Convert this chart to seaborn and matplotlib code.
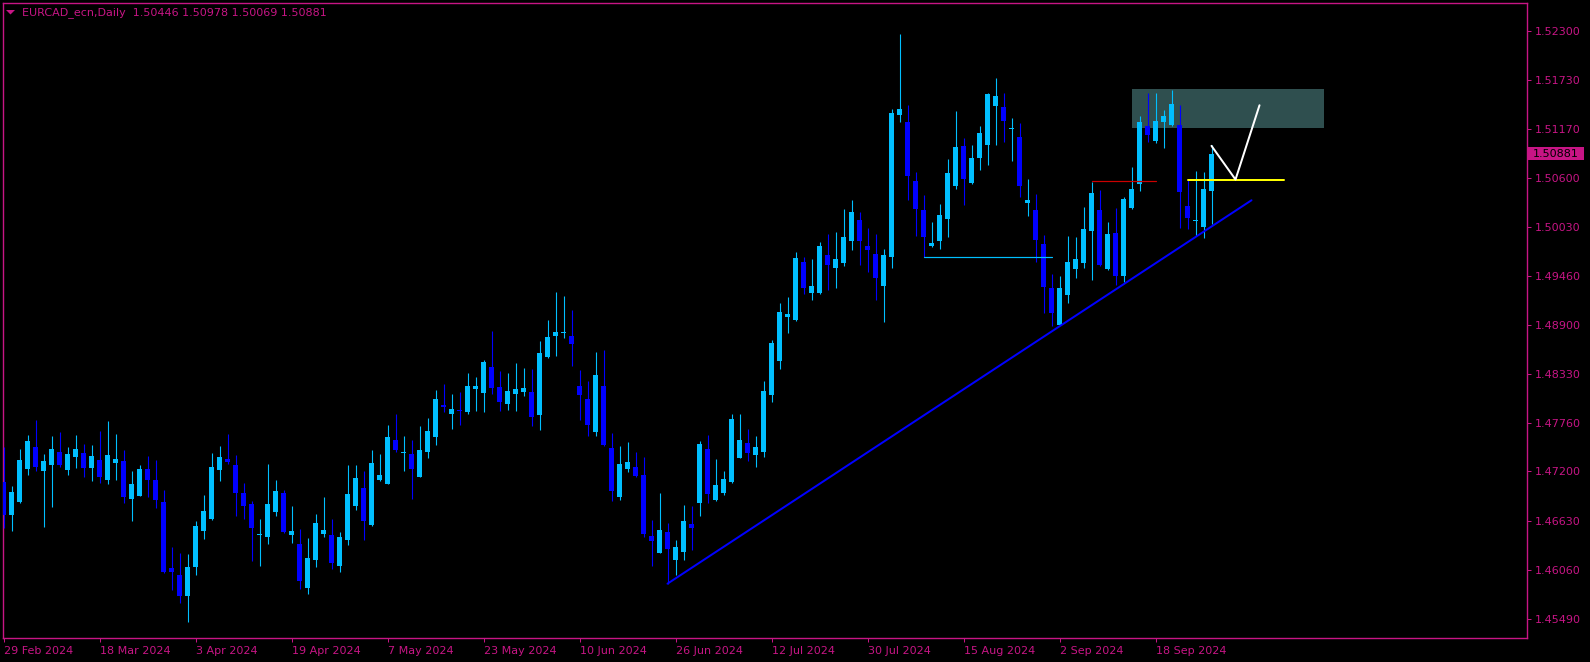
import numpy as np
import pandas as pd
import matplotlib
matplotlib.use("Agg")
import matplotlib.pyplot as plt
import seaborn as sns
from matplotlib.patches import Rectangle, Polygon
from matplotlib.transforms import blended_transform_factory

# ---------------- data ----------------
opens = [1.4708, 1.4670, 1.4685, 1.4723, 1.4748, 1.4720, 1.4728, 1.4743, 1.4722, 1.4737,
         1.4741, 1.4724, 1.4733, 1.4710, 1.4730, 1.4732, 1.4688, 1.4692, 1.4723, 1.4710,
         1.4685, 1.4608, 1.4600, 1.4576, 1.4609, 1.4651, 1.4665, 1.4722, 1.4734, 1.4727,
         1.4695, 1.4682, 1.4646, 1.4644, 1.4673, 1.4695, 1.4646, 1.4636, 1.4585, 1.4617,
         1.4648, 1.4646, 1.4610, 1.4641, 1.4680, 1.4701, 1.4658, 1.4710, 1.4706, 1.4756,
         1.4741, 1.4740, 1.4714, 1.4742, 1.4760, 1.4797, 1.4786, 1.4791, 1.4789, 1.4816,
         1.4811, 1.4841, 1.4818, 1.4798, 1.4810, 1.4812, 1.4812, 1.4785, 1.4852, 1.4877,
         1.4880, 1.4877, 1.4819, 1.4804, 1.4766, 1.4819, 1.4747, 1.4690, 1.4723, 1.4725,
         1.4716, 1.4645, 1.4626, 1.4650, 1.4618, 1.4627, 1.4659, 1.4684, 1.4746, 1.4687,
         1.4695, 1.4708, 1.4736, 1.4753, 1.4739, 1.4743, 1.4808, 1.4848, 1.4899, 1.4895,
         1.4963, 1.4927, 1.4927, 1.4971, 1.4956, 1.4961, 1.4987, 1.5011, 1.4981, 1.4972,
         1.4935, 1.4968, 1.5133, 1.5125, 1.5056, 1.5023, 1.4981, 1.4987, 1.5012, 1.5051,
         1.5097, 1.5054, 1.5083, 1.5098, 1.5143, 1.5142, 1.5116, 1.5107, 1.5031, 1.5023,
         1.4983, 1.4932, 1.4890, 1.4924, 1.4954, 1.4961, 1.4998, 1.5023, 1.4954, 1.4996,
         1.4946, 1.5025, 1.5053, 1.5120, 1.5103, 1.5125, 1.5121, 1.5121, 1.5027, 1.5010,
         1.5003, 1.50446]

highs = [1.4748, 1.4703, 1.4746, 1.4762, 1.4780, 1.4740, 1.4761, 1.4766, 1.4748, 1.4762,
         1.4752, 1.4751, 1.4767, 1.4778, 1.4763, 1.4745, 1.4720, 1.4727, 1.4738, 1.4733,
         1.4699, 1.4633, 1.4626, 1.4624, 1.4663, 1.4693, 1.4741, 1.4749, 1.4763, 1.4739,
         1.4707, 1.4686, 1.4665, 1.4729, 1.4710, 1.4699, 1.4680, 1.4653, 1.4643, 1.4671,
         1.4690, 1.4665, 1.4650, 1.4727, 1.4727, 1.4721, 1.4745, 1.4740, 1.4774, 1.4787,
         1.4761, 1.4756, 1.4773, 1.4782, 1.4814, 1.4821, 1.4810, 1.4812, 1.4834, 1.4829,
         1.4849, 1.4883, 1.4836, 1.4834, 1.4846, 1.4840, 1.4839, 1.4871, 1.4895, 1.4928,
         1.4923, 1.4907, 1.4837, 1.4825, 1.4858, 1.4861, 1.4765, 1.4749, 1.4754, 1.4743,
         1.4737, 1.4664, 1.4695, 1.4660, 1.4641, 1.4681, 1.4680, 1.4755, 1.4762, 1.4734,
         1.4721, 1.4787, 1.4787, 1.4769, 1.4761, 1.4825, 1.4872, 1.4915, 1.4922, 1.4974,
         1.4968, 1.4966, 1.4986, 1.4995, 1.4997, 1.5024, 1.5034, 1.5020, 1.5002, 1.4995,
         1.4978, 1.5140, 1.5227, 1.5144, 1.5067, 1.5040, 1.5009, 1.5030, 1.5082, 1.5137,
         1.5106, 1.5098, 1.5120, 1.5158, 1.5176, 1.5158, 1.5129, 1.5124, 1.5059, 1.5041,
         1.4994, 1.4949, 1.4946, 1.4993, 1.4991, 1.5026, 1.5055, 1.5046, 1.5009, 1.5025,
         1.5038, 1.5073, 1.5132, 1.5158, 1.5158, 1.5139, 1.5162, 1.5144, 1.5058, 1.5068,
         1.5067, 1.50978]

lows = [1.4655, 1.4651, 1.4684, 1.4716, 1.4720, 1.4656, 1.4679, 1.4725, 1.4716, 1.4724,
        1.4713, 1.4709, 1.4707, 1.4706, 1.4710, 1.4684, 1.4663, 1.4691, 1.4690, 1.4678,
        1.4602, 1.4583, 1.4568, 1.4546, 1.4600, 1.4642, 1.4664, 1.4709, 1.4729, 1.4668,
        1.4665, 1.4616, 1.4610, 1.4636, 1.4668, 1.4649, 1.4637, 1.4584, 1.4578, 1.4609,
        1.4644, 1.4607, 1.4604, 1.4635, 1.4675, 1.4641, 1.4657, 1.4709, 1.4705, 1.4743,
        1.4720, 1.4688, 1.4713, 1.4736, 1.4751, 1.4789, 1.4769, 1.4774, 1.4787, 1.4790,
        1.4789, 1.4810, 1.4790, 1.4791, 1.4790, 1.4807, 1.4773, 1.4768, 1.4851, 1.4854,
        1.4875, 1.4842, 1.4780, 1.4761, 1.4761, 1.4749, 1.4686, 1.4687, 1.4719, 1.4714,
        1.4644, 1.4611, 1.4625, 1.4590, 1.4600, 1.4618, 1.4629, 1.4668, 1.4684, 1.4686,
        1.4693, 1.4707, 1.4735, 1.4732, 1.4725, 1.4737, 1.4800, 1.4839, 1.4880, 1.4894,
        1.4925, 1.4918, 1.4926, 1.4930, 1.4932, 1.4958, 1.4976, 1.4959, 1.4951, 1.4918,
        1.4893, 1.4955, 1.5125, 1.5034, 1.4993, 1.4968, 1.4980, 1.4977, 1.4991, 1.5047,
        1.5028, 1.5053, 1.5069, 1.5075, 1.5098, 1.5101, 1.5079, 1.5038, 1.5016, 1.4962,
        1.4904, 1.4888, 1.4889, 1.4915, 1.4944, 1.4955, 1.4942, 1.4958, 1.4953, 1.4936,
        1.4939, 1.5024, 1.5045, 1.5102, 1.5100, 1.5094, 1.5120, 1.5002, 1.5001, 1.4993,
        1.4990, 1.50069]

closes = [1.4669, 1.4696, 1.4733, 1.4755, 1.4725, 1.4732, 1.4746, 1.4728, 1.4740, 1.4746,
          1.4724, 1.4738, 1.4713, 1.4739, 1.4734, 1.4690, 1.4705, 1.4723, 1.4710, 1.4687,
          1.4604, 1.4604, 1.4576, 1.4609, 1.4657, 1.4674, 1.4725, 1.4737, 1.4731, 1.4695,
          1.4680, 1.4654, 1.4648, 1.4682, 1.4697, 1.4650, 1.4651, 1.4593, 1.4620, 1.4660,
          1.4652, 1.4614, 1.4644, 1.4694, 1.4712, 1.4663, 1.4730, 1.4716, 1.4760, 1.4745,
          1.4743, 1.4723, 1.4745, 1.4767, 1.4804, 1.4795, 1.4792, 1.4790, 1.4819, 1.4819,
          1.4847, 1.4817, 1.4800, 1.4813, 1.4815, 1.4817, 1.4783, 1.4857, 1.4876, 1.4881,
          1.4882, 1.4868, 1.4809, 1.4774, 1.4832, 1.4751, 1.4697, 1.4729, 1.4731, 1.4715,
          1.4647, 1.4639, 1.4652, 1.4630, 1.4632, 1.4663, 1.4654, 1.4752, 1.4694, 1.4704,
          1.4711, 1.4781, 1.4756, 1.4741, 1.4748, 1.4813, 1.4869, 1.4905, 1.4902, 1.4967,
          1.4932, 1.4935, 1.4981, 1.4959, 1.4966, 1.4991, 1.5020, 1.4987, 1.4976, 1.4944,
          1.4971, 1.5135, 1.5140, 1.5062, 1.5024, 1.4992, 1.4985, 1.5017, 1.5066, 1.5096,
          1.5059, 1.5083, 1.5112, 1.5157, 1.5155, 1.5126, 1.5118, 1.5051, 1.5034, 1.4988,
          1.4934, 1.4903, 1.4932, 1.4963, 1.4966, 1.5001, 1.5042, 1.4959, 1.4995, 1.4946,
          1.5035, 1.5047, 1.5125, 1.5110, 1.5126, 1.5132, 1.5146, 1.5044, 1.5014, 1.5011,
          1.5047, 1.50881]

date_labels = ["29 Feb 2024", "18 Mar 2024", "3 Apr 2024", "19 Apr 2024", "7 May 2024",
               "23 May 2024", "10 Jun 2024", "26 Jun 2024", "12 Jul 2024", "30 Jul 2024",
               "15 Aug 2024", "2 Sep 2024", "18 Sep 2024"]
date_bars = [0, 12, 24, 36, 48, 60, 72, 84, 96, 108, 120, 132, 144]

price_ticks = [1.52300, 1.51730, 1.51170, 1.50600, 1.50030, 1.49460, 1.48900,
               1.48330, 1.47760, 1.47200, 1.46630, 1.46060, 1.45490]

symbol_title = "EURCAD_ecn,Daily  1.50446 1.50978 1.50069 1.50881"
last_price = 1.50881

trend_x = [83, 156]
trend_y = [1.4590, 1.5034]
support_x = [115, 131]
support_y = [1.4968, 1.4968]
red_x = [136, 144]
red_y = [1.5056, 1.5056]
yellow_x = [148, 160]
yellow_y = [1.5058, 1.5058]
path_x = [151, 154, 157]
path_y = [1.5097, 1.5058, 1.5144]
zone_x = [141, 165]
zone_y = [1.5118, 1.5163]

# ---------------- style ----------------
MAG = "#C71585"
BULL = "#00BFFF"
BEAR = "#0000FF"
W, H = 1590, 662
PX = 0.72  # one pixel in points at dpi 100

sns.set_theme(style="dark", rc={"axes.facecolor": "black", "figure.facecolor": "black"})
plt.rcParams["font.family"] = ["DejaVu Sans"]

fig = plt.figure(figsize=(W / 100, H / 100), dpi=100)
ax = fig.add_axes([2.5 / W, 24 / H, 1524.2 / W, 635.5 / H])
ax.set_facecolor("black")
ax.grid(False)

df = pd.DataFrame({"open": opens, "high": highs, "low": lows, "close": closes})
df["bar"] = np.arange(len(df))
bull = df["close"] >= df["open"]
cols = np.where(bull, BULL, BEAR)

# zone rectangle (background)
ax.add_patch(Rectangle((zone_x[0], zone_y[0]), zone_x[1] - zone_x[0], zone_y[1] - zone_y[0],
                       facecolor="#2F4F4F", edgecolor="none", zorder=1))

# candles
ax.vlines(df["bar"], df["low"], df["high"], colors=cols, linewidth=1.1 * PX, zorder=3)
body_lo = np.minimum(df["open"], df["close"])
body_h = np.maximum((df["close"] - df["open"]).abs(), 0.00013)
ax.bar(df["bar"], body_h, width=0.68, bottom=body_lo, color=cols, linewidth=0, zorder=4)

# drawn objects
sns.lineplot(x=trend_x, y=trend_y, ax=ax, color=BEAR, linewidth=2 * PX, zorder=5)
sns.lineplot(x=support_x, y=support_y, ax=ax, color=BULL, linewidth=1.2 * PX, zorder=5)
sns.lineplot(x=red_x, y=red_y, ax=ax, color="#CC0000", linewidth=1.2 * PX, zorder=5)
sns.lineplot(x=yellow_x, y=yellow_y, ax=ax, color="#FFFF00", linewidth=2 * PX, zorder=5)
sns.lineplot(x=path_x, y=path_y, ax=ax, color="white", linewidth=2 * PX, sort=False,
             estimator=None, zorder=6)

# axes limits
ax.set_xlim(-0.125, 190.4)
ax.set_ylim(1.45271, 1.52630)

for s in ax.spines.values():
    s.set_visible(True)
    s.set_color(MAG)
    s.set_linewidth(PX * 1.4)

ax.yaxis.tick_right()
ax.set_yticks(price_ticks)
ax.set_yticklabels([f"{p:.5f}" for p in price_ticks])
ax.set_xticks(date_bars)
ax.set_xticklabels(date_labels)
for lbl in ax.get_xticklabels():
    lbl.set_ha("left")
ax.tick_params(axis="y", which="both", right=True, left=False, length=3, width=PX,
               color=MAG, labelcolor=MAG, labelsize=8, pad=2.5, direction="out")
ax.tick_params(axis="x", which="both", bottom=True, length=3, width=PX,
               color=MAG, labelcolor=MAG, labelsize=8, pad=2.5, direction="out")
ax.set_xlabel("")
ax.set_ylabel("")

# current price tag
tr = blended_transform_factory(ax.transAxes, ax.transData)
half = 6.5 * (1.52630 - 1.45271) / 635.5
ax.add_patch(Rectangle((1.0007, last_price - half), 56 / 1524.2, 2 * half,
                       transform=tr, facecolor=MAG, edgecolor="none", clip_on=False, zorder=10))
ax.text(1 + 6.0 / 1524.2, last_price, f"{last_price:.5f}", transform=tr, ha="left",
        va="center", fontsize=8, color="black", zorder=11, clip_on=False)

# title with small triangle
fig.text(21.5 / W, 1 - 13 / H, symbol_title, color=MAG, fontsize=8, ha="left", va="center")
fig.patches.append(Polygon([(6 / W, 1 - 10 / H), (15 / W, 1 - 10 / H), (10.5 / W, 1 - 14.5 / H)],
                           closed=True, transform=fig.transFigure, facecolor=MAG,
                           edgecolor="none"))

fig.savefig("out.png", dpi=100, facecolor="black")
